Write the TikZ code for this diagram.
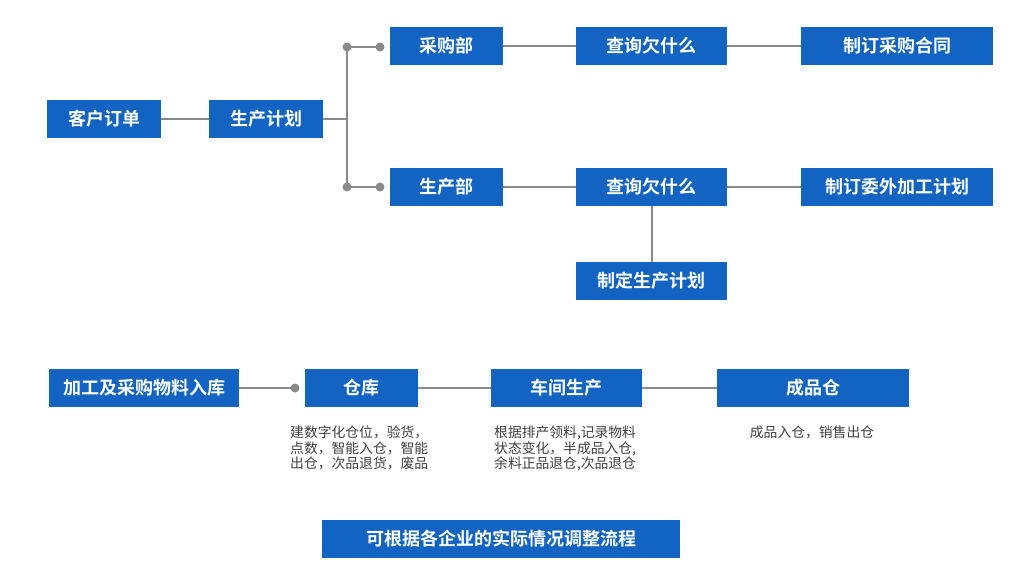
\documentclass[tikz,border=0pt]{standalone}
\usepackage{fontspec}
\setmainfont{Noto Sans CJK SC}[BoldFont={Noto Sans CJK SC Bold}]
\definecolor{boxblue}{RGB}{19,100,194}
\definecolor{linegray}{RGB}{138,138,138}
\definecolor{notegray}{RGB}{64,64,64}

\begin{document}
\begin{tikzpicture}[x=1pt,y=-1pt,
	box/.style={fill=boxblue,text=white,font=\bfseries\fontsize{18}{18}\selectfont,
		minimum height=38pt,inner sep=0pt},
	link/.style={draw=linegray,line width=2pt},
	dot/.style={fill=linegray},
	note/.style={text=notegray,font=\fontsize{13.8}{15.5}\selectfont,align=left,inner sep=0pt}]

	\useasboundingbox (0,0) rectangle (1023,576);

	% upper flow
	\node[box,minimum width=114pt] (order) at (104,119) {客户订单};
	\node[box,minimum width=114pt] (plan) at (266,119) {生产计划};
	\node[box,minimum width=113pt] (purchase) at (446.5,46) {采购部};
	\node[box,minimum width=151pt] (queryA) at (651.5,46) {查询欠什么};
	\node[box,minimum width=192pt] (contract) at (897,46) {制订采购合同};
	\node[box,minimum width=113pt] (production) at (446.5,187) {生产部};
	\node[box,minimum width=151pt] (queryB) at (651.5,187) {查询欠什么};
	\node[box,minimum width=192pt] (outsource) at (897,187) {制订委外加工计划};
	\node[box,minimum width=151pt] (schedule) at (651.5,281) {制定生产计划};

	\coordinate (fork) at (347,119);
	\coordinate (forkA) at (347,47);
	\coordinate (forkB) at (347,187);
	\coordinate (tipA) at (380,47);
	\coordinate (tipB) at (380,187);

	\draw[link] (order) -- (plan);
	\draw[link] (plan) -- (fork);
	\draw[link] (forkA) -- (forkB);
	\draw[link] (forkA) -- (tipA);
	\draw[link] (forkB) -- (tipB);
	\draw[link] (purchase) -- (queryA);
	\draw[link] (queryA) -- (contract);
	\draw[link] (production) -- (queryB);
	\draw[link] (queryB) -- (outsource);
	\draw[link] (queryB) -- (schedule);
	\foreach \p in {forkA,forkB,tipA,tipB}
		\fill[dot] (\p) circle (4.5pt);

	% lower flow
	\node[box,minimum width=190pt] (stockin) at (144,388) {加工及采购物料入库};
	\node[box,minimum width=113pt] (warehouse) at (361.5,388) {仓库};
	\node[box,minimum width=151pt] (workshop) at (566.5,388) {车间生产};
	\node[box,minimum width=192pt] (finished) at (813,388) {成品仓};
	\coordinate (entry) at (295,388);

	\draw[link] (stockin) -- (entry);
	\fill[dot] (entry) circle (4.5pt);
	\draw[link] (warehouse) -- (workshop);
	\draw[link] (workshop) -- (finished);

	\node[note,anchor=north west] (noteW) at (290,426) {建数字化仓位，验货，\\点数，智能入仓，智能\\出仓，次品退货，废品};
	\node[note,anchor=north west] (noteS) at (494,426) {根据排产领料,记录物料\\状态变化，半成品入仓,\\余料正品退仓,次品退仓};
	\node[note,anchor=north] (noteF) at (812,426) {成品入仓，销售出仓};

	\node[box,minimum width=358pt] (adjust) at (501,539) {可根据各企业的实际情况调整流程};

\end{tikzpicture}
\end{document}
